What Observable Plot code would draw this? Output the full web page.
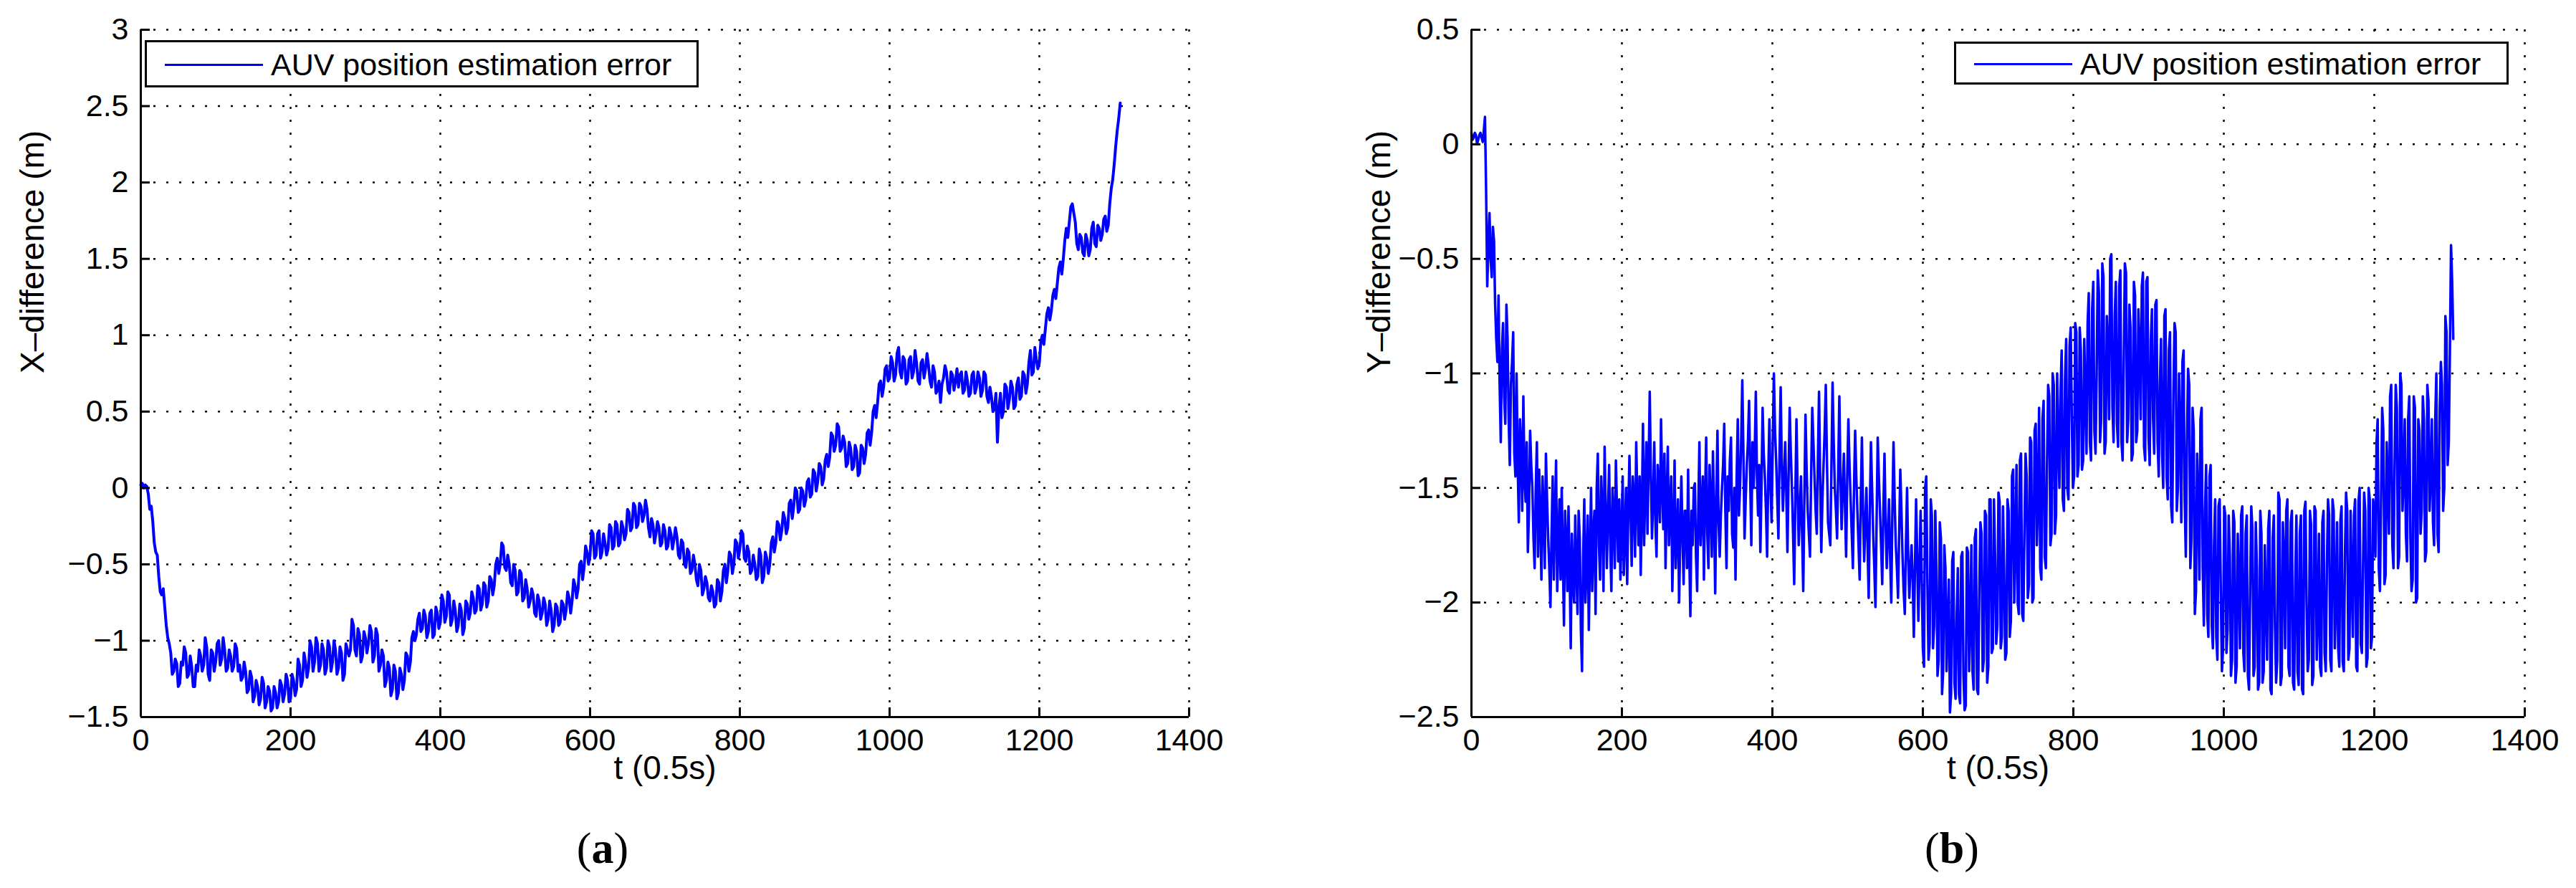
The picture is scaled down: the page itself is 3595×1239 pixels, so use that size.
<!DOCTYPE html>
<html>
<head>
<meta charset="utf-8">
<script src="https://cdn.jsdelivr.net/npm/d3@7"></script>
<script src="https://cdn.jsdelivr.net/npm/@observablehq/plot@0.6"></script>
<style>
  html, body { margin: 0; padding: 0; background: #fff; }
  body { width: 3595px; height: 1239px; position: relative; overflow: hidden; font-family: "Liberation Sans", Arial, Helvetica, sans-serif; }
  .panel { position: absolute; top: 0; }
  .legend { position: absolute; box-sizing: border-box; border: 3px solid #000; background: #fff; }
  .legend .swatch { position: absolute; left: 25px; height: 3px; width: 137px; background: #0000ff; }
  .legend .txt { position: absolute; left: 173px; font-size: 43px; line-height: 1; white-space: nowrap; color: #000; }
  .sub { position: absolute; font-family: "Liberation Serif", "DejaVu Serif", serif; font-size: 62px; color: #000; transform: translate(-50%, -50%); white-space: nowrap; }
  .sub b { font-weight: bold; }
</style>
</head>
<body>
<div id="p1" class="panel" style="left:0px"></div>
<div id="p2" class="panel" style="left:1797px"></div>

<div class="legend" style="left:202px; top:56px; width:773px; height:66px;">
  <div class="swatch" style="top:30px"></div>
  <div class="txt" style="top:10px">AUV position estimation error</div>
</div>
<div class="legend" style="left:2727px; top:58px; width:774px; height:60px;">
  <div class="swatch" style="top:27px"></div>
  <div class="txt" style="top:7px">AUV position estimation error</div>
</div>

<div class="sub" style="left:841px; top:1183px">(<b>a</b>)</div>
<div class="sub" style="left:2724px; top:1183px">(<b>b</b>)</div>

<script>
// ---------------- data ----------------
const xTicks = [0, 200, 400, 600, 800, 1000, 1200, 1400];
const yTicksA = [-1.5, -1, -0.5, 0, 0.5, 1, 1.5, 2, 2.5, 3];
const yTicksB = [-2.5, -2, -1.5, -1, -0.5, 0, 0.5];
const xLabel = "t (0.5s)";
const yLabelA = "X\u2013difference (m)";
const yLabelB = "Y\u2013difference (m)";
const legendLabel = "AUV position estimation error";

const stepA = 4;   // xDiff at t = 0, 4, 8, ...; xDiffMid at t = 2, 6, 10, ...
const stepB = 3;   // yDiff at t = 0, 3, 6, ...; yDiffMid at t = 1.5, 4.5, ...

// (a) X-difference, read at t = 0, 4, 8, ...
const xDiff = [
  0.02, 0.0, 0.01, -0.14, -0.22, -0.42, -0.58, -0.7, -0.78, -0.98,
  -1.08, -1.2, -1.15, -1.28, -1.16, -1.08, -1.22, -1.17, -1.3, -1.2,
  -1.1, -1.16, -1.04, -1.26, -1.08, -1.14, -1.0, -1.12, -1.06, -1.18,
  -1.1, -1.17, -1.05, -1.16, -1.24, -1.2, -1.32, -1.24, -1.36, -1.3,
  -1.38, -1.28, -1.4, -1.33, -1.44, -1.34, -1.4, -1.29, -1.35, -1.26,
  -1.38, -1.26, -1.32, -1.16, -1.26, -1.14, -1.18, -1.04, -1.14, -1.02,
  -1.16, -1.06, -1.18, -1.04, -1.14, -1.06, -1.18, -1.08, -1.22, -1.06,
  -1.06, -0.9, -1.1, -0.96, -1.1, -0.98, -1.02, -0.94, -1.1, -0.96,
  -1.16, -1.1, -1.26, -1.18, -1.32, -1.2, -1.34, -1.22, -1.26, -1.1,
  -1.14, -0.94, -0.96, -0.82, -0.92, -0.84, -0.94, -0.8, -0.96, -0.82,
  -0.88, -0.74, -0.84, -0.7, -0.86, -0.8, -0.9, -0.8, -0.92, -0.76,
  -0.82, -0.72, -0.8, -0.66, -0.76, -0.64, -0.74, -0.6, -0.64, -0.46,
  -0.5, -0.38, -0.54, -0.5, -0.64, -0.54, -0.68, -0.56, -0.72, -0.66,
  -0.74, -0.7, -0.84, -0.74, -0.82, -0.76, -0.86, -0.8, -0.9, -0.78,
  -0.88, -0.76, -0.8, -0.72, -0.74, -0.64, -0.66, -0.48, -0.52, -0.42,
  -0.44, -0.3, -0.44, -0.28, -0.42, -0.36, -0.4, -0.26, -0.38, -0.24,
  -0.36, -0.26, -0.3, -0.16, -0.26, -0.12, -0.24, -0.12, -0.18, -0.14,
  -0.32, -0.24, -0.3, -0.26, -0.36, -0.28, -0.38, -0.3, -0.34, -0.32,
  -0.46, -0.36, -0.52, -0.42, -0.54, -0.5, -0.64, -0.54, -0.66, -0.62,
  -0.74, -0.68, -0.76, -0.62, -0.68, -0.5, -0.54, -0.44, -0.5, -0.36,
  -0.4, -0.3, -0.48, -0.42, -0.54, -0.5, -0.58, -0.44, -0.58, -0.46,
  -0.5, -0.32, -0.36, -0.24, -0.28, -0.2, -0.26, -0.08, -0.12, -0.02,
  -0.14, -0.02, -0.08, 0.06, -0.04, 0.1, 0.04, 0.14, 0.06, 0.22,
  0.2, 0.34, 0.28, 0.4, 0.26, 0.3, 0.16, 0.26, 0.14, 0.24,
  0.1, 0.26, 0.22, 0.38, 0.36, 0.54, 0.56, 0.7, 0.66, 0.8,
  0.72, 0.82, 0.74, 0.92, 0.72, 0.84, 0.7, 0.86, 0.76, 0.82,
  0.68, 0.84, 0.78, 0.8, 0.66, 0.76, 0.64, 0.56, 0.72, 0.76,
  0.62, 0.74, 0.7, 0.66, 0.76, 0.64, 0.7, 0.62, 0.76, 0.66,
  0.72, 0.64, 0.74, 0.56, 0.6, 0.52, 0.3, 0.62, 0.5, 0.66,
  0.58, 0.66, 0.54, 0.72, 0.6, 0.74, 0.68, 0.9, 0.76, 0.84,
  0.82, 1.0, 1.04, 1.18, 1.16, 1.3, 1.34, 1.48, 1.5, 1.7,
  1.74, 1.86, 1.74, 1.56, 1.64, 1.52, 1.62, 1.56, 1.74, 1.58,
  1.7, 1.66, 1.78, 1.72, 1.96, 2.12, 2.34, 2.52
];

// (a) X-difference, read at t = 2, 6, 10, ... (the in-between jitter)
const xDiffMid = [
  0.03, 0.02, -0.04, -0.12, -0.36, -0.44, -0.68, -0.66, -0.9, -1.02,
  -1.22, -1.12, -1.3, -1.14, -1.04, -1.24, -1.1, -1.3, -1.16, -1.06,
  -1.2, -0.98, -1.22, -1.06, -1.2, -1.02, -1.16, -0.98, -1.2, -1.06,
  -1.2, -1.02, -1.2, -1.26, -1.14, -1.34, -1.2, -1.4, -1.26, -1.42,
  -1.24, -1.44, -1.3, -1.46, -1.3, -1.44, -1.26, -1.4, -1.22, -1.4,
  -1.22, -1.36, -1.12, -1.3, -1.08, -1.24, -1.0, -1.2, -0.98, -1.2,
  -1.02, -1.22, -1.0, -1.2, -1.0, -1.22, -1.04, -1.26, -1.02, -1.1,
  -0.86, -1.06, -0.92, -1.14, -0.94, -1.08, -0.9, -1.14, -0.92, -1.2,
  -1.06, -1.3, -1.14, -1.36, -1.16, -1.38, -1.18, -1.32, -1.08, -1.2,
  -0.98, -1.0, -0.86, -0.94, -0.8, -0.98, -0.82, -0.98, -0.78, -0.92,
  -0.7, -0.88, -0.68, -0.9, -0.74, -0.94, -0.76, -0.96, -0.74, -0.86,
  -0.68, -0.82, -0.64, -0.8, -0.62, -0.78, -0.58, -0.7, -0.5, -0.56,
  -0.36, -0.52, -0.44, -0.62, -0.5, -0.7, -0.54, -0.74, -0.6, -0.78,
  -0.66, -0.82, -0.7, -0.86, -0.72, -0.9, -0.74, -0.94, -0.76, -0.9,
  -0.74, -0.86, -0.68, -0.82, -0.6, -0.72, -0.5, -0.6, -0.38, -0.5,
  -0.28, -0.46, -0.3, -0.46, -0.3, -0.44, -0.24, -0.4, -0.22, -0.38,
  -0.22, -0.34, -0.14, -0.28, -0.1, -0.26, -0.1, -0.22, -0.08, -0.26,
  -0.2, -0.36, -0.22, -0.38, -0.24, -0.4, -0.26, -0.4, -0.26, -0.44,
  -0.34, -0.5, -0.4, -0.56, -0.44, -0.6, -0.5, -0.7, -0.58, -0.72,
  -0.64, -0.78, -0.6, -0.74, -0.54, -0.62, -0.42, -0.56, -0.34, -0.46,
  -0.28, -0.46, -0.38, -0.56, -0.44, -0.6, -0.4, -0.62, -0.42, -0.56,
  -0.36, -0.42, -0.22, -0.34, -0.16, -0.3, -0.1, -0.2, 0.0, -0.16,
  0.0, -0.12, 0.04, -0.06, 0.12, -0.02, 0.16, 0.02, 0.18, 0.14,
  0.36, 0.24, 0.42, 0.24, 0.34, 0.14, 0.3, 0.12, 0.28, 0.08,
  0.28, 0.16, 0.36, 0.28, 0.5, 0.46, 0.68, 0.6, 0.78, 0.7,
  0.86, 0.7, 0.88, 0.76, 0.86, 0.68, 0.84, 0.72, 0.9, 0.7,
  0.82, 0.72, 0.88, 0.7, 0.8, 0.62, 0.7, 0.68, 0.8, 0.64,
  0.76, 0.64, 0.78, 0.74, 0.62, 0.76, 0.6, 0.74, 0.62, 0.76,
  0.6, 0.76, 0.6, 0.66, 0.5, 0.62, 0.52, 0.46, 0.68, 0.52,
  0.7, 0.52, 0.68, 0.58, 0.76, 0.62, 0.82, 0.74, 0.92, 0.78,
  0.96, 0.94, 1.14, 1.1, 1.26, 1.24, 1.44, 1.4, 1.62, 1.64,
  1.84, 1.8, 1.6, 1.66, 1.54, 1.66, 1.52, 1.7, 1.6, 1.72,
  1.62, 1.76, 1.68, 1.86, 2.02, 2.24, 2.42
];

// (b) Y-difference, read at t = 0, 3, 6, ...
const yDiff = [
  0.05, 0.03, 0.04, 0.02, 0.05, 0.01, 0.12, -0.62, -0.3, -0.58,
  -0.42, -0.85, -0.66, -1.3, -0.78, -1.22, -0.85, -1.4, -0.95, -1.35,
  -1.0, -1.65, -1.32, -1.1, -1.56, -1.78, -1.25, -1.5, -1.85, -1.3,
  -1.42, -1.9, -1.6, -1.35, -1.72, -2.02, -1.45, -1.62, -1.95, -1.55,
  -1.5, -2.1, -1.75, -1.58, -2.2, -1.9, -1.62, -2.05, -1.72, -2.3,
  -1.55, -1.85, -2.12, -1.5, -1.7, -2.05, -1.35, -1.9, -1.6, -1.32,
  -1.85, -1.4, -1.95, -1.62, -1.38, -1.82, -1.9, -1.45, -1.7, -1.92,
  -1.36, -1.84, -1.55, -1.3, -1.75, -1.88, -1.22, -1.5, -1.7, -1.08,
  -1.72, -1.3, -1.8, -1.5, -1.2, -1.68, -1.85, -1.32, -1.6, -1.95,
  -1.38, -1.7, -2.0, -1.45, -1.92, -1.6, -1.42, -2.06, -1.75, -1.48,
  -1.95, -1.3, -1.6, -1.9, -1.28, -1.85, -1.55, -1.34, -1.96, -1.25,
  -1.8, -1.5, -1.22, -1.85, -1.6, -1.28, -1.76, -1.9, -1.2, -1.5,
  -1.03, -1.72, -1.4, -1.12, -1.75, -1.5, -1.08, -1.62, -1.78, -1.15,
  -1.45, -1.8, -1.2, -1.65, -1.0, -1.38, -1.72, -1.06, -1.6, -1.3,
  -1.78, -1.15, -1.5, -1.92, -1.2, -1.75, -1.45, -1.95, -1.18, -1.6,
  -1.8, -1.15, -1.45, -1.7, -1.08, -1.78, -1.4, -1.05, -1.65, -1.75,
  -1.04, -1.5, -1.72, -1.1, -1.68, -1.35, -1.8, -1.2, -1.55, -1.85,
  -1.25, -1.6, -1.9, -1.28, -1.82, -1.5, -1.98, -1.3, -1.7, -2.02,
  -1.28, -1.6, -1.92, -1.35, -1.85, -1.55, -2.0, -1.3, -1.75, -1.98,
  -1.42, -1.8, -2.05, -1.5, -1.98, -1.75, -2.15, -1.55, -2.08, -1.6,
  -2.2, -1.5, -1.9, -2.18, -1.62, -2.1, -1.85, -2.25, -1.72, -2.3,
  -1.85, -2.1, -2.48, -1.82, -2.35, -2.05, -2.4, -1.8, -2.32, -2.45,
  -1.78, -2.1, -2.3, -1.72, -2.38, -1.95, -1.7, -2.25, -1.62, -2.28,
  -1.55, -2.2, -1.8, -2.1, -1.56, -2.15, -1.85, -2.22, -1.6, -2.08,
  -1.42, -1.75, -2.0, -1.38, -2.05, -1.7, -1.45, -1.92, -1.3, -1.98,
  -1.22, -1.55, -1.85, -1.2, -1.8, -1.4, -1.1, -1.7, -1.05, -1.62,
  -1.3, -1.08, -1.55, -1.02, -1.5, -0.88, -1.2, -1.45, -0.82, -1.4,
  -0.9, -1.38, -1.1, -0.78, -1.3, -0.72, -1.25, -1.0, -0.65, -1.2,
  -0.58, -1.3, -0.9, -0.5, -1.15, -0.75, -1.22, -0.62, -1.3, -0.95,
  -0.56, -1.2, -0.8, -1.35, -0.66, -1.25, -0.9, -0.62, -1.32, -0.6,
  -1.28, -0.85, -1.2, -0.7, -1.3, -1.05, -1.35, -0.75, -1.45, -0.9,
  -1.58, -1.1, -0.82, -1.5, -1.25, -0.95, -1.55, -1.3, -1.05, -1.72,
  -1.25, -1.95, -1.55, -1.2, -1.85, -1.6, -2.05, -1.45, -2.1, -1.75,
  -2.15, -1.58, -1.95, -2.2, -1.62, -2.12, -1.8, -2.25, -1.65, -2.28,
  -1.9, -1.62, -2.22, -1.7, -2.32, -1.95, -1.68, -2.28, -1.85, -2.35,
  -1.7, -2.3, -2.0, -1.68, -2.38, -1.72, -2.1, -2.25, -1.55, -2.32,
  -1.8, -1.6, -2.28, -1.65, -2.35, -1.9, -2.3, -1.7, -2.38, -1.6,
  -2.0, -2.25, -1.66, -2.32, -1.6, -2.05, -2.28, -1.65, -2.22, -1.85,
  -1.62, -2.3, -1.6, -2.0, -2.2, -1.64, -2.26, -1.8, -1.6, -2.2,
  -1.9, -1.62, -2.28, -1.56, -2.18, -1.85, -1.6, -2.24, -1.55, -2.15,
  -1.6, -1.3, -1.85, -1.55, -1.25, -1.88, -1.5, -1.1, -1.75, -1.4,
  -1.15, -1.8, -1.05, -1.45, -1.7, -1.2, -1.72, -1.9, -1.15, -1.98,
  -1.25, -1.6, -1.2, -1.78, -1.12, -1.45, -1.65, -1.2, -1.7, -1.15,
  -1.05, -1.5, -0.82, -1.3, -0.44, -0.85
];

// (b) Y-difference, read at t = 1.5, 4.5, 7.5, ... (the in-between samples)
const yDiffMid = [
  0.02, 0.05, 0.0, 0.04, 0.03, 0.06, -0.2, -0.45, -0.5, -0.36,
  -0.7, -0.95, -1.05, -0.9, -1.1, -0.7, -1.2, -1.05, -0.82, -1.45,
  -1.4, -1.2, -1.6, -1.45, -1.3, -1.6, -1.4, -1.72, -1.5, -1.8,
  -1.62, -1.45, -1.85, -1.55, -1.85, -1.7, -1.9, -1.38, -1.75, -1.9,
  -1.8, -1.6, -1.95, -1.85, -1.7, -2.0, -1.85, -1.6, -2.12, -1.8,
  -2.0, -1.62, -1.8, -1.95, -1.6, -1.5, -1.75, -1.45, -1.95, -1.6,
  -1.6, -1.75, -1.5, -1.85, -1.6, -1.55, -1.7, -1.88, -1.5, -1.6,
  -1.6, -1.45, -1.8, -1.55, -1.45, -1.6, -1.75, -1.3, -1.4, -1.45,
  -1.55, -1.65, -1.4, -1.65, -1.48, -1.35, -1.55, -1.75, -1.45, -1.7,
  -1.85, -1.55, -1.72, -1.7, -1.6, -1.85, -1.78, -1.6, -1.5, -1.8,
  -1.6, -1.75, -1.45, -1.55, -1.7, -1.4, -1.8, -1.6, -1.55, -1.65,
  -1.62, -1.4, -1.6, -1.45, -1.38, -1.7, -1.5, -1.45, -1.62, -1.3,
  -1.35, -1.55, -1.3, -1.45, -1.3, -1.35, -1.45, -1.4, -1.5, -1.35,
  -1.6, -1.45, -1.5, -1.3, -1.25, -1.55, -1.35, -1.4, -1.45, -1.52,
  -1.45, -1.35, -1.7, -1.55, -1.5, -1.6, -1.7, -1.55, -1.42, -1.7,
  -1.45, -1.3, -1.6, -1.38, -1.45, -1.55, -1.25, -1.38, -1.7, -1.4,
  -1.3, -1.6, -1.42, -1.45, -1.5, -1.58, -1.45, -1.4, -1.7, -1.5,
  -1.45, -1.75, -1.55, -1.6, -1.65, -1.75, -1.6, -1.5, -1.85, -1.65,
  -1.45, -1.75, -1.6, -1.65, -1.7, -1.8, -1.6, -1.55, -1.85, -1.7,
  -1.6, -1.95, -1.75, -1.8, -1.85, -1.9, -1.85, -1.8, -1.85, -1.9,
  -2.28, -1.45, -2.25, -1.55, -2.2, -1.6, -2.32, -1.65, -2.4, -1.75,
  -2.3, -1.9, -2.4, -1.78, -2.42, -1.85, -2.44, -1.78, -2.47, -1.76,
  -2.3, -1.75, -2.38, -1.68, -2.4, -1.65, -2.3, -1.6, -2.35, -1.55,
  -2.22, -1.55, -2.18, -1.52, -2.2, -1.58, -2.25, -1.55, -2.15, -1.45,
  -2.0, -1.4, -2.05, -1.35, -2.08, -1.35, -1.98, -1.28, -2.0, -1.25,
  -1.75, -1.15, -1.9, -1.12, -1.85, -1.05, -1.75, -1.0, -1.7, -1.0,
  -1.5, -0.9, -1.6, -0.85, -1.55, -0.8, -1.5, -0.78, -1.45, -0.8,
  -1.42, -0.85, -1.35, -0.65, -1.38, -0.6, -1.35, -0.55, -1.3, -0.52,
  -1.35, -0.75, -1.2, -0.48, -1.3, -0.6, -1.32, -0.55, -1.38, -0.52,
  -1.3, -0.7, -1.38, -0.6, -1.3, -0.72, -1.2, -0.56, -1.38, -0.58,
  -1.4, -0.72, -1.35, -0.68, -1.45, -0.85, -1.5, -0.72, -1.55, -0.82,
  -1.65, -0.78, -1.6, -1.0, -1.65, -0.9, -1.8, -0.98, -1.85, -1.15,
  -2.05, -1.35, -1.9, -1.15, -2.1, -1.4, -2.15, -1.4, -2.2, -1.55,
  -2.25, -1.55, -2.3, -1.58, -2.22, -1.62, -2.32, -1.6, -2.35, -1.7,
  -2.2, -1.58, -2.3, -1.62, -2.38, -1.58, -2.32, -1.65, -2.38, -1.6,
  -2.35, -1.75, -2.25, -1.6, -2.4, -1.62, -2.35, -1.52, -2.36, -1.65,
  -2.2, -1.55, -2.32, -1.6, -2.38, -1.62, -2.36, -1.62, -2.4, -1.56,
  -2.3, -1.6, -2.36, -1.58, -2.25, -1.7, -2.32, -1.6, -2.3, -1.55,
  -2.25, -1.55, -2.2, -1.65, -2.28, -1.58, -2.3, -1.52, -2.25, -1.6,
  -2.15, -1.55, -2.3, -1.5, -2.22, -1.52, -2.28, -1.5, -2.2, -1.55,
  -1.8, -1.2, -1.95, -1.15, -1.92, -1.3, -1.7, -1.05, -1.85, -1.05,
  -1.85, -1.0, -1.6, -1.2, -1.82, -1.1, -1.95, -1.1, -2.0, -1.2,
  -1.7, -1.1, -1.82, -1.05, -1.6, -1.2, -1.75, -1.0, -1.78, -0.95,
  -1.6, -0.75, -1.4, -0.9, -0.6
];

// ---------------- drawing ----------------
const FONT = '"Liberation Sans", Arial, Helvetica, sans-serif';
const H = 1110;          // svg height; plot frame spans y 41..1000
const BLUE = "#0000ff";
const dotted = {stroke: "#000", strokeOpacity: 1, strokeWidth: 2.5, strokeDasharray: "3,15"};
const fmt = d => (d < 0 ? "\u2212" : "") + String(Math.abs(d));

function panel({data, yTicks, yLabel, width, marginLeft, marginRight, yLabelDx, lineWidth}) {
  const y0 = yTicks[0], y1 = yTicks[yTicks.length - 1];
  return Plot.plot({
    width, height: H,
    marginLeft, marginRight, marginTop: 41, marginBottom: H - 1000,
    style: {fontFamily: FONT, fontSize: "43px", color: "#000", background: "#fff", overflow: "visible"},
    x: {domain: [0, 1400], label: null},
    y: {domain: [y0, y1], label: null},
    marks: [
      Plot.gridX(xTicks.slice(1), dotted),
      Plot.gridY(yTicks.slice(1), dotted),
      Plot.line(data, {x: "t", y: "v", stroke: BLUE, strokeWidth: lineWidth}),
      Plot.ruleX([0], {stroke: "#000", strokeWidth: 3}),
      Plot.ruleY([y0], {stroke: "#000", strokeWidth: 3}),
      Plot.axisX(xTicks, {tickSize: 0, tickPadding: 16, label: null, fontSize: 43, tickFormat: fmt}),
      Plot.axisX(xTicks, {tickSize: 13, dy: -13, text: null, label: null, strokeWidth: 3}),
      Plot.axisY(yTicks, {tickSize: 0, tickPadding: 17, label: null, fontSize: 43, tickFormat: fmt}),
      Plot.axisY(yTicks, {tickSize: 13, dx: 13, text: null, label: null, strokeWidth: 3}),
      Plot.text([xLabel], {frameAnchor: "bottom", dy: 86, fontSize: 46, fill: "#000"}),
      Plot.text([yLabel], {frameAnchor: "left", dx: yLabelDx, rotate: -90, fontSize: 46, fill: "#000"})
    ]
  });
}

const dataA = xDiff.map((v, i) => ({t: i * stepA, v}))
  .concat(xDiffMid.map((v, i) => ({t: i * stepA + stepA / 2, v})))
  .sort((a, b) => a.t - b.t);
const dataB = yDiff.map((v, i) => ({t: i * stepB, v}))
  .concat(yDiffMid.map((v, i) => ({t: i * stepB + stepB / 2, v})))
  .sort((a, b) => a.t - b.t);

document.getElementById("p1").append(panel({
  data: dataA, yTicks: yTicksA, yLabel: yLabelA,
  width: 1790, marginLeft: 196, marginRight: 1790 - 1659, yLabelDx: -150, lineWidth: 4
}));
document.getElementById("p2").append(panel({
  data: dataB, yTicks: yTicksB, yLabel: yLabelB,
  width: 1798, marginLeft: 2053 - 1797, marginRight: 3595 - 3523, yLabelDx: -128, lineWidth: 3.5
}));
</script>
</body>
</html>
